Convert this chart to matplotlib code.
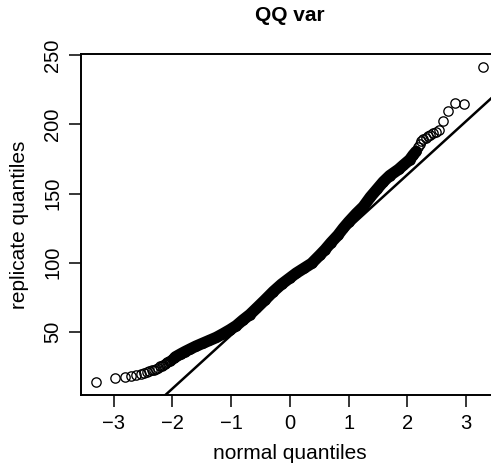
import matplotlib
matplotlib.use("Agg")
import matplotlib.pyplot as plt
from statistics import NormalDist

plt.rcParams["font.family"] = ["Liberation Sans", "DejaVu Sans"]

# theoretical (normal) quantiles and replicate values
low_x = [-3.29, -2.97, -2.81, -2.70, -2.61, -2.54, -2.48, -2.43, -2.39, -2.35,
         -2.31, -2.27, -2.24, -2.21, -2.18, -2.16, -2.13, -2.11, -2.09, -2.06,
         -2.04, -2.02, -2.00, -1.99, -1.97]
low_y = [13.7, 17.0, 17.7, 18.3, 19.0, 19.6, 20.2, 20.9, 21.6, 22.2,
         22.8, 23.5, 24.2, 25.0, 25.6, 26.3, 26.9, 27.5, 28.1, 28.7,
         29.3, 29.9, 30.5, 30.9, 31.4]

mid_x = [-1.95, -1.90, -1.85, -1.78, -1.70, -1.60, -1.48, -1.37, -1.25, -1.13,
         -1.02, -0.91, -0.80, -0.68, -0.57, -0.43, -0.28, -0.14, 0.00, 0.11,
         0.24, 0.37, 0.51, 0.60, 0.70, 0.82, 0.91, 1.00, 1.13, 1.25,
         1.37, 1.48, 1.59, 1.70, 1.85, 1.93, 2.04, 2.10, 2.15]
mid_y = [31.8, 33.0, 34.2, 35.8, 37.5, 39.6, 41.8, 43.8, 46.0, 48.8,
         51.5, 54.5, 58.5, 62.5, 67.0, 72.8, 79.2, 84.5, 89.0, 92.5,
         96.0, 99.5, 105.5, 109.5, 114.5, 120.0, 125.0, 129.5, 135.5, 140.5,
         147.5, 153.0, 158.5, 163.0, 167.5, 170.5, 174.5, 178.0, 180.5]

up_x = [2.18, 2.21, 2.24, 2.27, 2.31, 2.35, 2.39, 2.43, 2.48, 2.54,
        2.61, 2.70, 2.81, 2.97, 3.29]
up_y = [184.0, 186.0, 187.8, 189.3, 190.5, 191.6, 192.6, 193.5, 194.5, 196.0,
        202.8, 210.0, 215.3, 215.0, 241.5]

# sample quartiles used by the reference line (qqline)
sample_quartiles = [60.2, 112.4]

xs = low_x + mid_x + up_x
ys = low_y + mid_y + up_y

fig = plt.figure(figsize=(4.91, 4.69), dpi=100)
ax = fig.add_axes([81 / 491, 1 - 394.7 / 469, 417.6 / 491, 340.2 / 469])

# dense middle: circles overlap into a solid band
ax.plot(mid_x, mid_y, "-", color="black", lw=8.3,
        solid_capstyle="round", solid_joinstyle="round")
ax.plot(xs, ys, "o", mfc="none", mec="black", ms=6.7, mew=0.95)

z1, z3 = NormalDist().inv_cdf(0.25), NormalDist().inv_cdf(0.75)
slope = (sample_quartiles[1] - sample_quartiles[0]) / (z3 - z1)
icpt = sample_quartiles[0] - slope * z1
ax.axline((0, icpt), slope=slope, color="black", lw=1.8)

# R-style 4% padding
xr = max(xs) - min(xs)
yr = max(ys) - min(ys)
ax.set_xlim(min(xs) - 0.04 * xr, max(xs) + 0.04 * xr)
ax.set_ylim(min(ys) - 0.04 * yr, max(ys) + 0.04 * yr)

ax.set_xticks([-3, -2, -1, 0, 1, 2, 3])
ax.set_xticklabels(["\u22123", "\u22122", "\u22121", "0", "1", "2", "3"])
ax.set_yticks([50, 100, 150, 200, 250])
ax.tick_params(direction="out", length=8.6, width=1.1, labelsize=14.5, pad=5)
ax.tick_params(axis="y", labelrotation=90)
for lbl in ax.get_yticklabels():
    lbl.set_va("center")
for sp in ax.spines.values():
    sp.set_linewidth(1.4)

ax.set_title("QQ var", fontsize=15, fontweight="bold", pad=24)
ax.set_xlabel("normal quantiles", fontsize=15, va="center")
ax.set_ylabel("replicate quantiles", fontsize=15, va="center")
ax.xaxis.set_label_coords(0.5, -0.174)
ax.yaxis.set_label_coords(-0.148, 0.5)

fig.savefig("out.png", dpi=100)
